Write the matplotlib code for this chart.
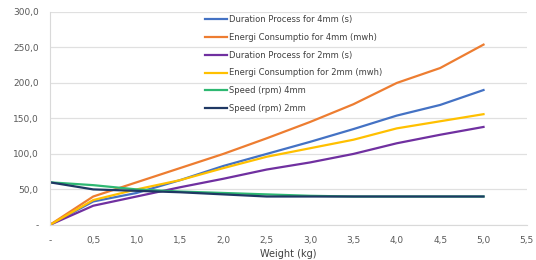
import matplotlib
matplotlib.use("Agg")
import matplotlib.pyplot as plt
from matplotlib.ticker import FuncFormatter

weight = [0, 0.5, 1.0, 1.5, 2.0, 2.5, 3.0, 3.5, 4.0, 4.5, 5.0]
dur_4mm = [0, 33, 45, 63, 83, 100, 117, 135, 154, 169, 190]
energy_4mm = [0, 40, 60, 80, 100, 122, 145, 170, 200, 221, 254]
dur_2mm = [0, 27, 40, 53, 65, 78, 88, 100, 115, 127, 138]
energy_2mm = [0, 35, 50, 63, 80, 96, 108, 120, 136, 146, 156]
speed_4mm = [60, 56, 50, 47, 45, 43, 41, 40, 40, 40, 40]
speed_2mm = [60, 50, 48, 46, 43, 40, 40, 40, 40, 40, 40]

labels = ["Duration Process for 4mm (s)", "Energi Consumptio for 4mm (mwh)",
          "Duration Process for 2mm (s)", "Energi Consumption for 2mm (mwh)",
          "Speed (rpm) 4mm", "Speed (rpm) 2mm"]
series = [dur_4mm, energy_4mm, dur_2mm, energy_2mm, speed_4mm, speed_2mm]
colors = ["#4472C4", "#ED7D31", "#7030A0", "#FFC000", "#2EB872", "#1F3864"]

fig = plt.figure(figsize=(5.36, 2.6), dpi=100)
ax = fig.add_axes([0.093, 0.135, 0.89, 0.819])
for y, lab, c in zip(series, labels, colors):
    ax.plot(weight, y, color=c, lw=1.6, label=lab)

ax.set_xlim(0, 5.5)
ax.set_ylim(0, 300)
ax.set_xticks([0, 0.5, 1, 1.5, 2, 2.5, 3, 3.5, 4, 4.5, 5, 5.5])
ax.set_yticks([0, 50, 100, 150, 200, 250, 300])

def fmt(v, p):
    return "-" if v == 0 else f"{v:.1f}".replace(".", ",")
ax.xaxis.set_major_formatter(FuncFormatter(fmt))
ax.yaxis.set_major_formatter(FuncFormatter(fmt))
ax.tick_params(length=0, labelsize=6.5, colors="#595959", pad=8)
ax.grid(axis="y", color="#E0E0E0", lw=0.9)
ax.set_axisbelow(True)
for s in ["top", "right"]:
    ax.spines[s].set_visible(False)
for s in ["left", "bottom"]:
    ax.spines[s].set_color("#D9D9D9")
ax.set_xlabel("Weight (kg)", fontsize=7, color="#404040", labelpad=3)

ax.legend(loc="upper left", bbox_to_anchor=(0.31, 1.02), frameon=False,
          fontsize=6, handlelength=2.6, labelspacing=1.05, handletextpad=0.3,
          labelcolor="#404040")
fig.savefig("out.png", dpi=100)
